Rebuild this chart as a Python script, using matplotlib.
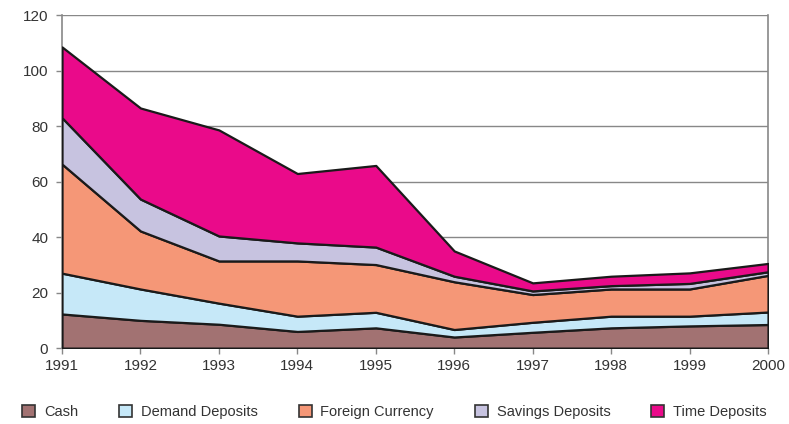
import numpy as np
import matplotlib
matplotlib.use('Agg')
from matplotlib import pyplot as plt
from matplotlib.patches import Patch

plt.rcParams['font.family'] = ['Liberation Sans', 'DejaVu Sans']

years = [1991, 1992, 1993, 1994, 1995, 1996, 1997, 1998, 1999, 2000]
cash = [12.3, 10.0, 8.6, 6.0, 7.3, 4.0, 5.7, 7.3, 8.0, 8.5]
demand = [14.7, 11.3, 7.6, 5.5, 5.6, 2.7, 3.6, 4.2, 3.5, 4.5]
foreign = [39.3, 20.9, 15.2, 19.9, 17.2, 17.2, 10.0, 9.8, 9.8, 13.2]
savings = [16.7, 11.5, 9.0, 6.5, 6.3, 2.0, 1.3, 1.2, 2.0, 1.3]
time_dep = [25.5, 32.8, 38.2, 25.0, 29.4, 9.1, 2.9, 3.4, 3.8, 3.0]

labels = ['Cash', 'Demand Deposits', 'Foreign Currency', 'Savings Deposits', 'Time Deposits']
colors = ['#A27272', '#C6E8F8', '#F59777', '#C7C3E0', '#EA0A8A']

fig = plt.figure(figsize=(7.89, 4.24), dpi=100)
ax = fig.add_axes([0.0786, 0.179, 0.8948, 0.7856])

ax.stackplot(years, cash, demand, foreign, savings, time_dep,
             colors=colors, edgecolor='#1a1a1a', linewidth=1.6, zorder=3)

ax.set_xlim(1991, 2000)
ax.set_ylim(0, 120)
ax.set_xticks(years)
ax.set_yticks(range(0, 121, 20))
ax.yaxis.grid(True, color='#888888', linewidth=1.0, zorder=0)
ax.set_axisbelow(True)
for s in ['left', 'bottom', 'right']:
    ax.spines[s].set_color('#888888')
    ax.spines[s].set_linewidth(1.2)
ax.spines['top'].set_visible(False)
ax.tick_params(axis='both', colors='#888888', labelcolor='#333333', labelsize=11, length=4, width=1)
ax.tick_params(axis='y', pad=6)

handles = [Patch(facecolor=c, edgecolor='#333333', linewidth=1.2) for c in colors]
fig.legend(handles, labels, loc='lower center', bbox_to_anchor=(0.5, -0.02), ncol=5,
           frameon=False, fontsize=10.5, handlelength=0.9, handleheight=0.9,
           columnspacing=2.8, handletextpad=0.6, labelcolor='#333333')

fig.savefig('out.png', dpi=100)
